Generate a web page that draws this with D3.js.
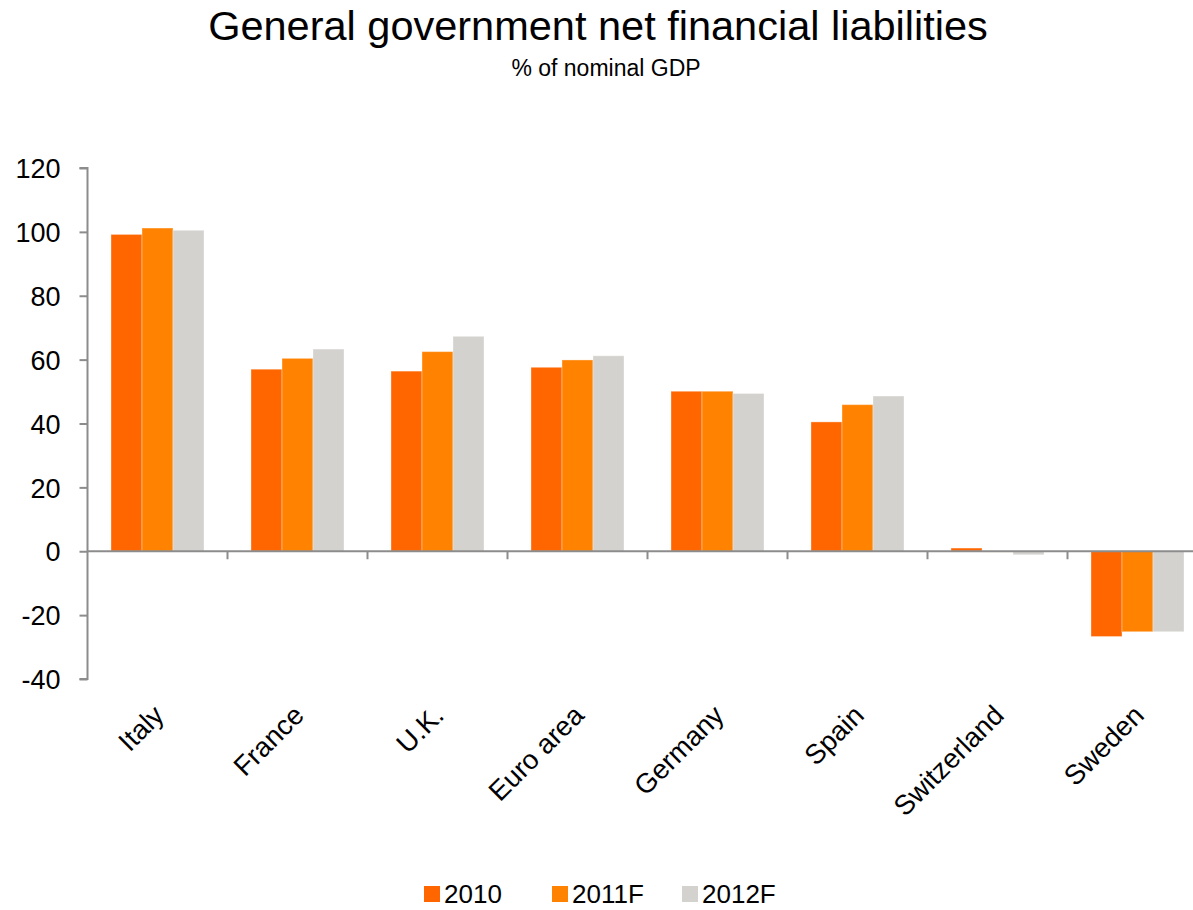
<!DOCTYPE html>
<html>
<head>
<meta charset="utf-8">
<script src="https://cdn.jsdelivr.net/npm/d3@7"></script>
<style>
  html, body { margin: 0; padding: 0; background: #fff; }
  svg { display: block; font-family: "Liberation Sans", Arial, sans-serif; }
</style>
</head>
<body>
<svg id="chart" width="1193" height="910"></svg>
<script>
const categories = ["Italy", "France", "U.K.", "Euro area", "Germany", "Spain", "Switzerland", "Sweden"];
const seriesNames = ["2010", "2011F", "2012F"];
const values2010  = [99.2, 57.0, 56.4, 57.6, 50.1, 40.5, 1.0, -26.7];
const values2011F = [101.2, 60.4, 62.5, 59.9, 50.1, 45.9, -0.2, -25.2];
const values2012F = [100.5, 63.3, 67.3, 61.2, 49.4, 48.6, -1.1, -25.2];
const yTicks = [-40, -20, 0, 20, 40, 60, 80, 100, 120];
const colors = ["#FF6600", "#FF8200", "#D3D2CF"];

const seriesValues = [values2010, values2011F, values2012F];
const svg = d3.select("#chart");

const axisX = 87.5;
const bandW = 140;
const x = d3.scaleBand().domain(categories).range([axisX, axisX + bandW * categories.length]).padding(0);
const xs = d3.scaleBand().domain(seriesNames).range([23.5, 116.5]).padding(0);
const y = d3.scaleLinear().domain([-40, 120]).range([679, 168]);

// Title
svg.append("text").attr("x", 598).attr("y", 40).attr("text-anchor", "middle")
  .attr("font-size", 41.5).attr("fill", "#000").text("General government net financial liabilities");
svg.append("text").attr("x", 606).attr("y", 76).attr("text-anchor", "middle")
  .attr("font-size", 23).attr("fill", "#000").text("% of nominal GDP");

// Bars
const data = [];
categories.forEach((c, i) => {
  seriesNames.forEach((s, j) => data.push({ cat: c, ser: s, val: seriesValues[j][i], color: colors[j] }));
});
svg.append("g").selectAll("rect").data(data).join("rect")
  .attr("x", d => x(d.cat) + xs(d.ser))
  .attr("width", xs.bandwidth())
  .attr("y", d => Math.min(y(d.val), y(0)))
  .attr("height", d => Math.max(Math.abs(y(d.val) - y(0)), 0.8))
  .attr("fill", d => d.color)
  .attr("stroke", "rgba(255,255,255,0.35)")
  .attr("stroke-width", 1);

// Y axis
const yAxis = d3.axisLeft(y).tickValues(yTicks).tickSize(8).tickPadding(19).tickFormat(d => String(d));
const gy = svg.append("g").attr("transform", `translate(${axisX},0)`).call(yAxis);
gy.select(".domain").attr("stroke", "#8c8c8c").attr("stroke-width", 2).attr("d", `M-8,${y(120)}H0V${y(-40)}H-8`);
gy.selectAll(".tick line").attr("stroke", "#8c8c8c").attr("stroke-width", 2);
gy.selectAll(".tick text").attr("font-size", 27).attr("fill", "#000").attr("font-family", "Liberation Sans, Arial, sans-serif").attr("dy", "0.36em");

// X axis at zero
const xAxis = d3.axisBottom(x).tickSize(0).tickFormat("");
const gx = svg.append("g").attr("transform", `translate(0,${y(0)})`).call(xAxis);
gx.select(".domain").attr("stroke", "#8c8c8c").attr("stroke-width", 2).attr("d", `M${axisX},0H${axisX + bandW * categories.length}`);
gx.selectAll(".tick").remove();
// Boundary ticks
svg.append("g").selectAll("line").data(categories.slice(1)).join("line")
  .attr("x1", d => x(d)).attr("x2", d => x(d))
  .attr("y1", y(0)).attr("y2", y(0) + 8)
  .attr("stroke", "#8c8c8c").attr("stroke-width", 2);

// Category labels
svg.append("g").selectAll("text").data(categories).join("text")
  .attr("transform", d => `translate(${x(d) + x.bandwidth() / 2 + 8},717) rotate(-45)`)
  .attr("text-anchor", "end")
  .attr("font-size", 27.5).attr("fill", "#000")
  .text(d => d);

// Legend
const legendX = [424, 552, 682];
const lg = svg.append("g").selectAll("g").data(seriesNames).join("g")
  .attr("transform", (d, i) => `translate(${legendX[i]},886)`);
lg.append("rect").attr("width", 16).attr("height", 16).attr("fill", (d, i) => colors[i]);
lg.append("text").attr("x", 20).attr("y", 17).attr("font-size", 26).attr("fill", "#000").text(d => d);
</script>
</body>
</html>
